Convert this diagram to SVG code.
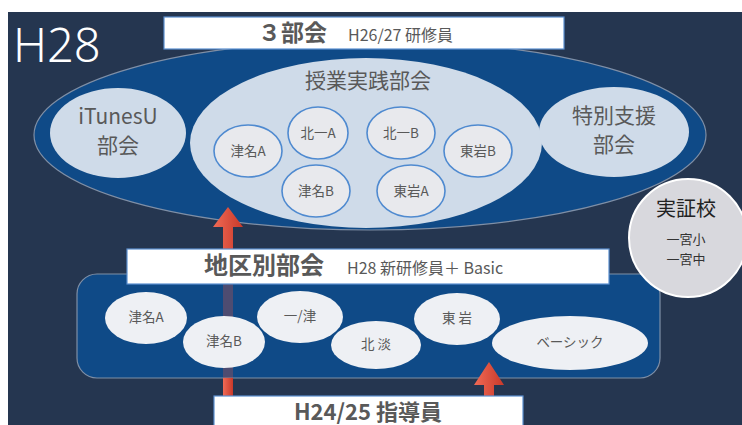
<svg xmlns="http://www.w3.org/2000/svg" width="742" height="425" viewBox="0 0 742 425">
<defs>
<style>
.t{font-family:"Noto Sans CJK JP","Noto Sans",sans-serif;fill:#595959}
.big{fill:#0f4a87;stroke:#7f8fa6;stroke-width:1.2}
.lt{fill:#cfdbe9}
.sm{fill:#e8e9ed;stroke:#4f8ad0;stroke-width:1.6}
.rg{fill:#eef0f4}
.box{fill:#ffffff;stroke:#5b8fd0;stroke-width:1.2}
</style>
<linearGradient id="ag" x1="0" y1="0" x2="1" y2="0">
<stop offset="0" stop-color="#f06a55"/><stop offset="1" stop-color="#c9392a"/>
</linearGradient>
</defs>
<rect x="0" y="0" width="742" height="425" fill="#ffffff"/>
<rect x="8" y="12" width="734" height="413" fill="#253650"/>
<text x="13" y="62" font-family="'Noto Sans','Open Sans',sans-serif" font-weight="300" font-size="47" fill="#ffffff">H28</text>

<g id="sanbukai">
<ellipse class="big" cx="370" cy="135" rx="336" ry="95"/>
</g>
<g id="jugyo">
<ellipse class="lt" cx="366" cy="143" rx="176" ry="85"/>
<text class="t" x="368" y="88" font-size="21" text-anchor="middle">授業実践部会</text>
</g>
<g id="itunesu">
<ellipse class="lt" cx="118" cy="133" rx="68" ry="45"/>
<text class="t" x="118" y="124" font-size="21" text-anchor="middle">iTunesU</text>
<text class="t" x="118" y="153" font-size="21" text-anchor="middle">部会</text>
</g>
<g id="tokubetsu">
<ellipse class="lt" cx="614" cy="132" rx="75" ry="45"/>
<text class="t" x="614" y="123" font-size="21" text-anchor="middle">特別支援</text>
<text class="t" x="614" y="152" font-size="21" text-anchor="middle">部会</text>
</g>
<g id="j-tsunaA"><ellipse class="sm" cx="248" cy="151" rx="34" ry="26"/><text class="t" x="248" y="156" font-size="13.5" text-anchor="middle">津名A</text></g>
<g id="j-kitaA"><ellipse class="sm" cx="318" cy="133" rx="30" ry="26"/><text class="t" x="318" y="138" font-size="13.5" text-anchor="middle">北一A</text></g>
<g id="j-kitaB"><ellipse class="sm" cx="401" cy="133" rx="34" ry="26"/><text class="t" x="401" y="138" font-size="13.5" text-anchor="middle">北一B</text></g>
<g id="j-higashiB"><ellipse class="sm" cx="478" cy="151" rx="34" ry="26"/><text class="t" x="478" y="156" font-size="13.5" text-anchor="middle">東岩B</text></g>
<g id="j-tsunaB"><ellipse class="sm" cx="316" cy="191" rx="34" ry="26"/><text class="t" x="316" y="196" font-size="13.5" text-anchor="middle">津名B</text></g>
<g id="j-higashiA"><ellipse class="sm" cx="411" cy="191" rx="34" ry="26"/><text class="t" x="411" y="196" font-size="13.5" text-anchor="middle">東岩A</text></g>

<g id="title1">
<rect class="box" x="164" y="17" width="400" height="32"/>
<text class="t" x="258" y="41" font-size="23" font-weight="bold">３部会</text>
<text class="t" x="348" y="41" font-size="16">H26/27 研修員</text>
</g>

<g id="chiku">
<rect x="77" y="274" width="583" height="104" rx="20" fill="#0f4a87" stroke="#7f8fa6" stroke-width="1.2"/>
</g>

<g id="connectors">
<path fill="url(#ag)" d="M228,207 L243,227 L233,227 L233,275 L223,275 L223,227 L213,227 Z"/>
<rect x="223" y="275" width="10" height="103" fill="#e0533f" fill-opacity="0.3"/>
<rect x="223" y="378" width="10" height="20" fill="url(#ag)"/>
<path fill="url(#ag)" d="M489,362 L504,385 L494,385 L494,398 L484,398 L484,385 L474,385 Z"/>
</g>

<g id="c-tsunaA"><ellipse class="rg" cx="146" cy="318" rx="41" ry="26"/><text class="t" x="146" y="322" font-size="13.5" text-anchor="middle">津名A</text></g>
<g id="c-tsunaB"><ellipse class="rg" cx="224" cy="342" rx="41" ry="26"/><text class="t" x="224" y="346" font-size="13.5" text-anchor="middle">津名B</text></g>
<g id="c-ichitsu"><ellipse class="rg" cx="300" cy="317" rx="43" ry="26"/><text class="t" x="300" y="321" font-size="13.5" text-anchor="middle">一/津</text></g>
<g id="c-kitadan"><ellipse class="rg" cx="376" cy="345" rx="45" ry="24"/><text class="t" x="376" y="349" font-size="13.5" text-anchor="middle">北 淡</text></g>
<g id="c-higashi"><ellipse class="rg" cx="457" cy="319" rx="43" ry="26"/><text class="t" x="457" y="323" font-size="13.5" text-anchor="middle">東 岩</text></g>
<g id="c-basic"><ellipse class="rg" cx="570" cy="343" rx="78" ry="27"/><text class="t" x="570" y="347" font-size="13.5" text-anchor="middle">ベーシック</text></g>

<g id="title2">
<rect class="box" x="127" y="249" width="482" height="35"/>
<text class="t" x="204" y="274" font-size="24" font-weight="bold">地区別部会</text>
<text class="t" x="347" y="274" font-size="16">H28 新研修員＋ Basic</text>
</g>

<g id="jisshou">
<circle cx="688" cy="238" r="59" fill="#d8d8dd" stroke="#ffffff" stroke-width="2"/>
<text x="686" y="216" font-family="'Noto Sans CJK JP',sans-serif" font-size="20" fill="#222222" text-anchor="middle">実証校</text>
<text x="686" y="244" font-family="'Noto Sans CJK JP',sans-serif" font-size="13" fill="#333333" text-anchor="middle">一宮小</text>
<text x="686" y="264" font-family="'Noto Sans CJK JP',sans-serif" font-size="13" fill="#333333" text-anchor="middle">一宮中</text>
</g>

<g id="title3">
<rect class="box" x="214" y="396" width="309" height="40"/>
<text class="t" x="368" y="420" font-size="22" font-weight="bold" text-anchor="middle">H24/25 指導員</text>
</g>
</svg>
